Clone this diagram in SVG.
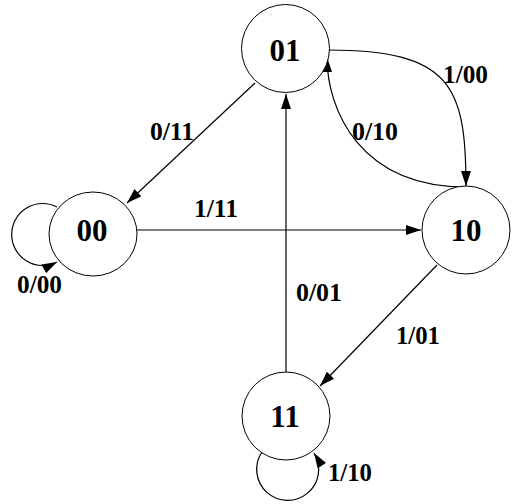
<svg xmlns="http://www.w3.org/2000/svg" width="517" height="504" viewBox="0 0 517 504">
<style>
.node circle, .node ellipse { fill: #fff; stroke: #000; stroke-width: 1; }
.node text { font-family: "Liberation Serif", "Times New Roman", serif; font-weight: bold; font-size: 31px; text-anchor: middle; fill: #000; }
.edge { fill: none; stroke: #000; stroke-width: 1.2; marker-end: url(#arrow); }
.lbl { font-family: "Liberation Serif", "Times New Roman", serif; font-weight: bold; font-size: 26px; fill: #000; }
</style>
<defs>
<marker id="arrow" markerUnits="userSpaceOnUse" markerWidth="16" markerHeight="12" refX="15" refY="5" orient="auto">
<path d="M0,0 L15,5 L0,10 z" fill="#000"/>
</marker>
</defs>
<rect width="517" height="504" fill="#fff"/>
<g id="connectors">
<path class="edge" d="M255,83 L127,203"/>
<path class="edge" d="M137,230 L421,230"/>
<path class="edge" d="M286,373 L286,94"/>
<path class="edge" d="M437,265 L320,386"/>
<path class="edge" d="M328,50 C450,50 466,85 466,186"/>
<path class="edge" d="M466,187 C360,187 327,110 327,57"/>
<path class="edge" d="M57,207 A31 31 0 1 0 57,262"/>
<path class="edge" d="M262,452 A31 31 0 1 0 314,453"/>
</g>
<g id="node-01" class="node"><circle cx="285.5" cy="48.5" r="44"/><text x="285" y="61">01</text></g>
<g id="node-00" class="node"><ellipse cx="93" cy="234" rx="44" ry="42"/><text x="92" y="241">00</text></g>
<g id="node-10" class="node"><circle cx="466" cy="230" r="44"/><text x="466" y="241">10</text></g>
<g id="node-11" class="node"><circle cx="286" cy="416" r="44"/><text x="285" y="427">11</text></g>
<g id="labels">
<text class="lbl" x="150" y="140" textLength="44" lengthAdjust="spacingAndGlyphs">0/11</text>
<text class="lbl" x="194" y="217" textLength="44" lengthAdjust="spacingAndGlyphs">1/11</text>
<text class="lbl" x="17" y="293" textLength="45" lengthAdjust="spacingAndGlyphs">0/00</text>
<text class="lbl" x="443" y="83" textLength="45" lengthAdjust="spacingAndGlyphs">1/00</text>
<text class="lbl" x="352" y="140" textLength="46" lengthAdjust="spacingAndGlyphs">0/10</text>
<text class="lbl" x="296" y="301" textLength="46" lengthAdjust="spacingAndGlyphs">0/01</text>
<text class="lbl" x="396" y="344" textLength="44" lengthAdjust="spacingAndGlyphs">1/01</text>
<text class="lbl" x="328" y="481" textLength="44" lengthAdjust="spacingAndGlyphs">1/10</text>
</g>
</svg>
